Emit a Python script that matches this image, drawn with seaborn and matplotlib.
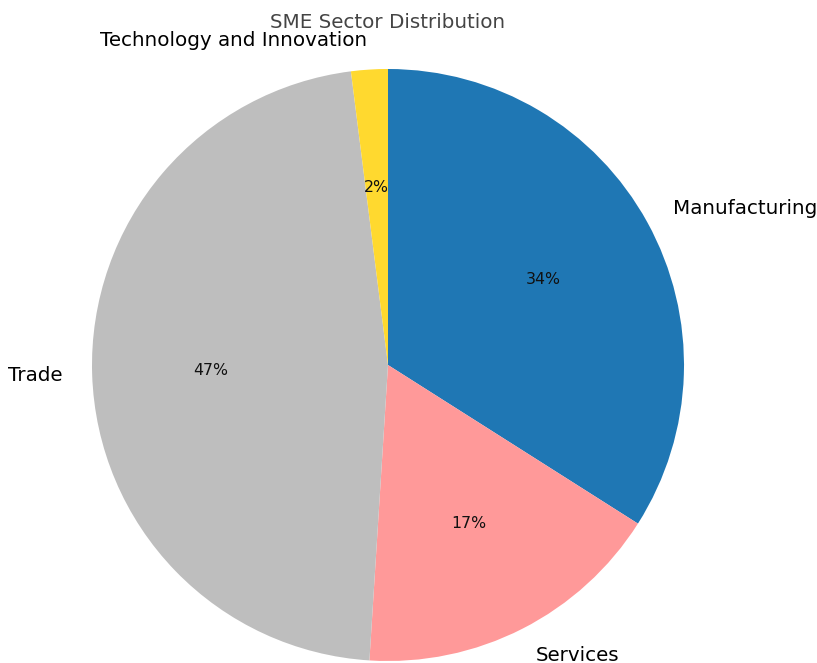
import matplotlib
matplotlib.use("Agg")
import matplotlib.pyplot as plt
import seaborn as sns

sns.set_theme(style="white")
plt.rcParams['font.family'] = ['DejaVu Sans']

sectors = ["Manufacturing", "Services", "Trade", "Technology and Innovation"]
shares = [34, 17, 47, 2]
colors = ["#1f77b4", "#ff9999", "#bebebe", "#ffd92f"]
title = "SME Sector Distribution"

W, H = 817, 663
fig = plt.figure(figsize=(W / 100, H / 100), dpi=100)
r_px = 296
cx, cy = 388, H - 365
lim = 1.05
span = 2 * lim * r_px
ax = fig.add_axes([(cx - span / 2) / W, (cy - span / 2) / H, span / W, span / H])

wedges, texts, autotexts = ax.pie(
    shares, labels=sectors, colors=colors, autopct="%1.0f%%",
    startangle=90, counterclock=False,
    wedgeprops={"linewidth": 0, "edgecolor": "none"},
    textprops={"fontsize": 14.3, "color": "black"},
)
for t in autotexts:
    t.set_fontsize(11.3)
    t.set_color("#111111")
ax.set_xlim(-lim, lim)
ax.set_ylim(-lim, lim)
ax.set_aspect("equal")
ax.axis("off")

fig.text(cx / W, 1 - 22 / H, title, ha="center", va="center", fontsize=14.3, color="#444444")

fig.savefig("out.png", dpi=100)
